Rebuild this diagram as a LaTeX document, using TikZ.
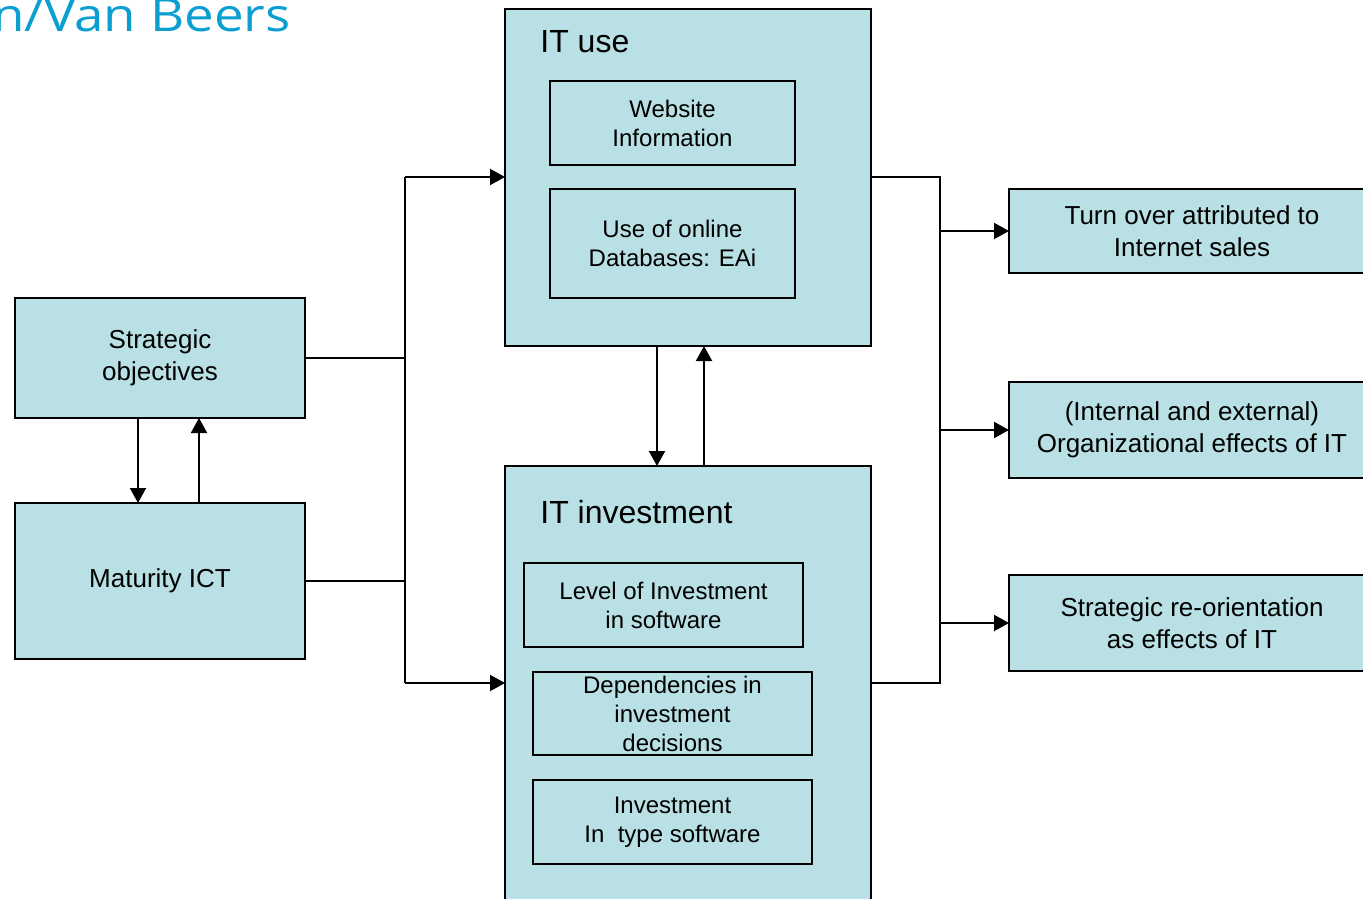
\documentclass[tikz,border=0pt]{standalone}
\usepackage{fontspec}
\setmainfont{Liberation Sans}
\newfontfamily\titlefont{Open Sans}
\usetikzlibrary{arrows.meta}
\definecolor{boxfill}{RGB}{185,224,228}
\definecolor{titleblue}{RGB}{10,159,208}
\begin{document}
\begin{tikzpicture}[x=0.5pt,y=-0.5pt,
  box/.style={draw=black,line width=1pt,fill=boxfill,inner sep=0pt,outer sep=0pt,align=center},
  outerfont/.style={font=\fontsize{13}{16}\selectfont},
  innerfont/.style={font=\fontsize{12}{14.5}\selectfont},
  conn/.style={line width=1pt},
  arr/.style={line width=1pt,-{Triangle[length=7.5pt,width=8pt]}}]
\useasboundingbox (0,0) rectangle (1363,898);
\clip (0,0) rectangle (1363,898);
\node[font=\titlefont\fontsize{23}{27}\selectfont,text=titleblue,anchor=base east,inner sep=0pt] (title) at (291,32) {\scalebox{1.15}[1]{n/Van Beers}};
% left
\node[box,outerfont,minimum width=145pt,minimum height=60pt] (strat) at (160,358) {Strategic\\ objectives};
\node[box,outerfont,minimum width=145pt,minimum height=78pt] (mat) at (160,581) {Maturity ICT};
% IT use
\node[box,minimum width=183pt,minimum height=168.5pt] (ituse) at (688,177.5) {};
\node[anchor=west,inner sep=0pt,font=\fontsize{16}{19}\selectfont] (itusel) at (540,42) {IT use};
\node[box,innerfont,minimum width=122.5pt,minimum height=42pt] (web) at (672.5,123) {Website\\ Information};
\node[box,innerfont,minimum width=122.5pt,minimum height=54.5pt] (online) at (672.5,243.5) {Use of online\\ Databases: EAi};
% IT investment
\node[box,minimum width=183pt,minimum height=222pt] (itinv) at (688,688) {};
\node[anchor=west,inner sep=0pt,font=\fontsize{16}{19}\selectfont] (itinvl) at (540,512) {IT investment};
\node[box,innerfont,minimum width=139.5pt,minimum height=42pt] (level) at (663.5,605) {Level of Investment\\ in software};
\node[box,innerfont,minimum width=139.5pt,minimum height=41.5pt] (dep) at (672.5,713.5) {Dependencies in\\ investment\\ decisions};
\node[box,innerfont,minimum width=139.5pt,minimum height=42pt] (type) at (672.5,822) {Investment\\ In\ \ type software};
% right
\node[box,outerfont,minimum width=183pt,minimum height=42pt] (turn) at (1192,231) {Turn over attributed to\\ Internet sales};
\node[box,outerfont,minimum width=183pt,minimum height=48pt] (org) at (1192,430) {(Internal and external)\\ Organizational effects of IT};
\node[box,outerfont,minimum width=183pt,minimum height=48pt] (reor) at (1192,623) {Strategic re-orientation\\ as effects of IT};
% junctions
\coordinate (jlt) at (405,177);
\coordinate (jlb) at (405,683);
\coordinate (jrt) at (940,177);
\coordinate (jrb) at (940,683);
\draw[conn] (strat.east) -- (strat.east -| jlt);
\draw[conn] (mat.east) -- (mat.east -| jlt);
\draw[conn] (jlt) -- (jlb);
\draw[arr] (jlt) -- (jlt -| ituse.west);
\draw[arr] (jlb) -- (jlb -| itinv.west);
\draw[conn] (ituse.east |- jrt) -- (jrt) -- (jrb) -- (itinv.east |- jrb);
\draw[arr] (jrt |- turn.west) -- (turn.west);
\draw[arr] (jrt |- org.west) -- (org.west);
\draw[arr] (jrt |- reor.west) -- (reor.west);
\draw[arr] ([xshift=-11pt]strat.south) -- ([xshift=-11pt]mat.north);
\draw[arr] ([xshift=19.5pt]mat.north) -- ([xshift=19.5pt]strat.south);
\draw[arr] ([xshift=-15.5pt]ituse.south) -- ([xshift=-15.5pt]itinv.north);
\draw[arr] ([xshift=8pt]itinv.north) -- ([xshift=8pt]ituse.south);
\end{tikzpicture}
\end{document}
